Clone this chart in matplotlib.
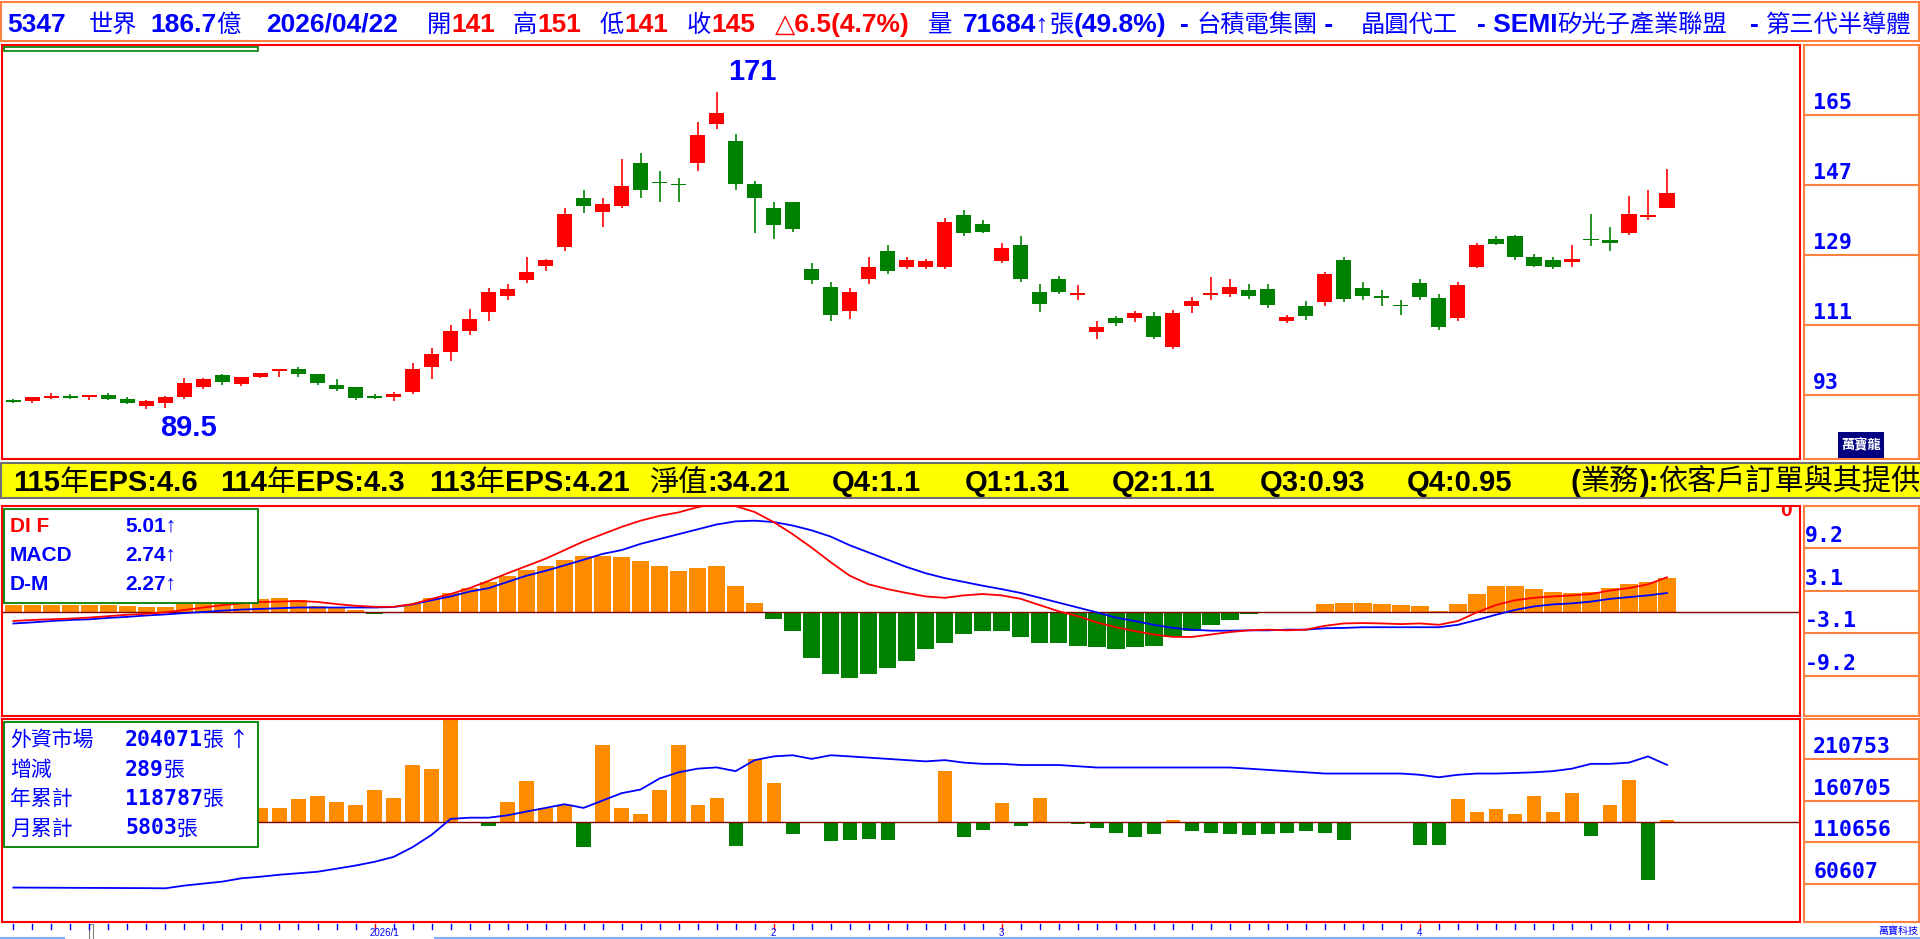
import matplotlib
matplotlib.use('Agg')
import matplotlib.pyplot as plt
import matplotlib.transforms as mtransforms
from matplotlib.patches import Rectangle
from matplotlib.lines import Line2D

# --- 1. DADOS ---
opens = [91.4, 91.5, 92.3, 92.45, 92.6, 93.0, 92.0, 90.25, 91.0, 92.5,
         95.1, 98.2, 95.8, 97.6, 99.3, 99.7, 98.4, 95.6, 95.1, 92.45,
         92.5, 93.8, 100.2, 104.05, 109.5, 114.3, 118.4, 122.5, 126.2, 131.0,
         143.6, 140.1, 141.7, 152.7, 147.8, 147.2, 152.7, 162.8, 158.4, 147.3,
         141.0, 142.6, 125.3, 120.9, 114.5, 122.8, 130.0, 125.9, 125.9, 125.9,
         139.2, 136.9, 127.5, 131.6, 119.6, 122.8, 118.8, 109.3, 112.7, 112.7,
         113.3, 105.4, 115.9, 118.8, 119.0, 119.9, 120.2, 112.1, 115.9, 116.8,
         127.8, 120.6, 118.2, 116.0, 121.8, 118.0, 112.7, 125.9, 133.2, 133.8,
         128.4, 127.8, 127.2, 133.0, 132.9, 134.75, 138.8, 141.0]
highs = [92.1, 92.5, 93.6, 93.25, 92.7, 93.6, 92.6, 91.7, 92.75, 97.5,
         97.3, 98.3, 97.7, 98.7, 99.5, 100.2, 98.4, 97.1, 95.1, 93.3,
         93.8, 101.2, 105.1, 111.0, 115.0, 120.6, 121.5, 128.4, 128.0, 141.0,
         145.8, 143.6, 153.6, 155.2, 150.5, 148.9, 163.1, 171.0, 160.0, 148.0,
         142.6, 142.6, 126.9, 122.1, 120.6, 128.4, 131.6, 128.4, 128.0, 138.5,
         140.7, 137.9, 132.2, 133.8, 121.5, 123.7, 121.2, 112.1, 113.3, 114.6,
         114.3, 114.9, 118.1, 123.4, 122.8, 121.5, 121.5, 113.7, 117.1, 124.7,
         128.4, 122.1, 120.1, 117.4, 122.8, 119.0, 122.1, 132.2, 133.8, 134.1,
         129.3, 128.4, 131.6, 139.5, 136.3, 144.2, 145.8, 151.0]
lows = [90.9, 90.9, 91.9, 91.9, 91.7, 91.6, 90.8, 89.5, 89.7, 92.0,
        94.5, 95.6, 95.4, 97.5, 97.7, 97.7, 95.6, 94.0, 91.7, 92.0,
        91.5, 93.3, 97.1, 101.75, 108.5, 112.1, 117.5, 121.8, 125.0, 130.0,
        139.8, 136.3, 141.0, 143.6, 142.6, 142.6, 150.5, 161.5, 145.8, 134.75,
        133.2, 135.0, 121.5, 112.1, 112.5, 121.5, 124.0, 125.3, 125.3, 125.3,
        133.8, 134.75, 126.9, 122.1, 114.3, 119.0, 117.4, 107.4, 110.8, 111.7,
        107.4, 104.8, 114.0, 117.4, 118.1, 117.7, 115.3, 111.4, 112.4, 115.9,
        116.8, 117.4, 115.9, 113.7, 117.4, 109.6, 112.1, 125.6, 131.6, 127.8,
        126.0, 125.3, 125.9, 131.3, 130.0, 134.1, 138.0, 141.0]
closes = [91.3, 92.5, 92.4, 92.35, 92.7, 92.0, 91.0, 91.45, 92.5, 96.1,
          97.1, 96.35, 97.6, 98.7, 99.45, 98.4, 96.1, 94.5, 92.2, 92.35,
          93.3, 99.7, 103.6, 109.5, 112.5, 119.6, 120.2, 124.7, 127.8, 139.5,
          141.7, 142.0, 146.7, 145.8, 147.4, 146.9, 159.9, 165.6, 147.3, 143.6,
          136.6, 135.7, 122.5, 113.7, 119.5, 125.9, 125.0, 127.8, 127.5, 137.6,
          134.75, 135.0, 130.7, 122.8, 116.5, 119.6, 119.1, 110.5, 111.4, 114.0,
          108.0, 114.0, 117.1, 119.1, 120.9, 118.4, 116.2, 113.0, 113.3, 124.0,
          117.7, 118.4, 118.0, 115.8, 118.3, 110.5, 121.2, 131.6, 131.9, 128.4,
          126.2, 125.9, 128.1, 132.8, 132.0, 139.5, 139.2, 145.0]

dif = [-1.3, -1.15, -1.05, -0.95, -0.8, -0.6, -0.4, -0.25, -0.05, 0.3,
       0.65, 1.0, 1.25, 1.45, 1.5, 1.6, 1.45, 1.15, 0.9, 0.75,
       0.75, 1.15, 1.9, 2.6, 3.45, 4.5, 5.6, 6.65, 7.7, 8.95,
       10.2, 11.25, 12.3, 13.2, 13.9, 14.4, 15.15, 15.7, 15.3, 14.45,
       13.0, 11.25, 9.3, 7.2, 5.25, 4.0, 3.3, 2.75, 2.25, 2.05,
       2.4, 2.6, 2.4, 1.9, 1.0, 0.1, -0.6, -1.5, -2.2, -2.75,
       -3.25, -3.6, -3.6, -3.25, -2.9, -2.65, -2.55, -2.65, -2.55, -2.0,
       -1.65, -1.6, -1.65, -1.75, -1.65, -1.85, -1.3, -0.05, 1.0, 1.7,
       2.05, 2.25, 2.4, 2.6, 3.1, 3.45, 4.0, 5.01]
macd = [-1.66, -1.5, -1.3, -1.15, -1.05, -0.85, -0.7, -0.5, -0.35, -0.15,
        0.0, 0.2, 0.35, 0.45, 0.55, 0.65, 0.65, 0.65, 0.65, 0.65,
        0.72, 1.1, 1.7, 2.25, 2.95, 3.45, 4.35, 5.25, 5.95, 6.75,
        7.55, 8.4, 8.95, 9.85, 10.55, 11.25, 11.95, 12.65, 13.1, 13.2,
        13.0, 12.5, 11.8, 10.9, 9.65, 8.6, 7.55, 6.5, 5.6, 4.9,
        4.35, 3.8, 3.3, 2.75, 2.05, 1.35, 0.65, -0.05, -0.8, -1.3,
        -1.85, -2.3, -2.55, -2.7, -2.7, -2.65, -2.65, -2.55, -2.55, -2.35,
        -2.3, -2.2, -2.2, -2.2, -2.2, -2.2, -1.85, -1.15, -0.4, 0.3,
        0.8, 1.1, 1.25, 1.5, 1.9, 2.15, 2.4, 2.74]
osc = [1.0, 1.0, 1.0, 1.0, 1.0, 0.97, 0.82, 0.77, 0.77, 1.2,
       1.3, 1.5, 1.73, 1.88, 2.0, 1.73, 0.8, 0.6, 0.3, -0.25,
       -0.1, 1.2, 2.05, 2.75, 3.5, 4.35, 5.2, 6.1, 6.65, 7.5,
       8.1, 8.1, 7.9, 7.35, 6.65, 5.95, 6.3, 6.65, 3.8, 1.35,
       -0.95, -2.7, -6.6, -8.9, -9.5, -8.9, -8.05, -7.15, -5.4, -4.5,
       -3.25, -2.7, -2.7, -3.6, -4.5, -4.5, -4.85, -5.0, -5.4, -5.0,
       -4.85, -3.6, -2.7, -1.85, -1.15, -0.25, -0.1, 0.0, 0.05, 1.15,
       1.35, 1.35, 1.15, 1.0, 0.8, 0.1, 1.15, 2.6, 3.8, 3.8,
       3.3, 2.95, 2.75, 2.95, 3.45, 4.0, 4.35, 4.9]

# 外資持股 (張) e 買賣超 (張)
foreign_hold = [55900, 55800, 55700, 55600, 55500, 55400, 55300, 55200, 55000, 58300,
                60700, 63100, 67100, 69000, 71400, 73200, 75000, 78700, 82500, 87000,
                92900, 104700, 119500, 138800, 140300, 140300, 143200, 147700, 152100, 156500,
                152100, 161000, 169900, 174300, 187700, 195100, 199500, 201000, 196500, 209800,
                214300, 215700, 211300, 215700, 214300, 212800, 211300, 209800, 208300, 209800,
                206800, 205300, 205300, 203900, 203900, 203900, 202400, 200900, 200900, 200900,
                200900, 200900, 200900, 200900, 200900, 199500, 198000, 196500, 195100, 193600,
                193600, 193600, 193600, 193600, 192100, 189100, 192100, 193600, 193600, 194300,
                195100, 196500, 199500, 205300, 205300, 206800, 214300, 204071]
foreign_net = [0, 0, 0, 0, 0, 0, 0, 0, 0, 0,
               0, 0, 0, 2100, 2100, 3400, 3900, 3000, 2500, 4800,
               3600, 8500, 8000, 16000, 0, -660, 3000, 6100, 2100, 2600,
               -3800, 11600, 2100, 1200, 4800, 11600, 2500, 3600, -3600, 9400,
               5800, -1800, 0, -2900, -2700, -2500, -2700, 0, 0, 7600,
               -2300, -1200, 2800, -660, 3600, 0, -300, -850, -1600, -2300,
               -1800, 250, -1400, -1600, -1800, -1950, -1800, -1600, -1400, -1600,
               -2700, 0, 0, 0, -3400, -3400, 3400, 1500, 1900, 1200,
               3900, 1500, 4300, -2100, 2500, 6300, -8700, 289]

price_ticks = [165, 147, 129, 111, 93]
macd_ticks = [9.2, 3.1, -3.1, -9.2]
hold_ticks = [210753, 160705, 110656, 60607]
month_pos = [19, 40, 52, 74]
month_labels = ['2026/1', '2', '3', '4']

macd_names = ['DI F', 'MACD', 'D-M']
macd_vals = ['5.01↑', '2.74↑', '2.27↑']
fund_names = ['外資市場', '增減', '年累計', '月累計']
fund_vals = ['204071', '289', '118787', '5803']
fund_tail = ['張 ↑', '張', '張', '張']

eps_items = [('115', '年', 'EPS:4.6'), ('114', '年', 'EPS:4.3'), ('113', '年', 'EPS:4.21')]
band_rest = ['Q4:1.1', 'Q1:1.31', 'Q2:1.11', 'Q3:0.93', 'Q4:0.95']

# --- 2. LAYOUT ---
W, H = 1920, 939
RED, GRN, BLU, ORG, EDGE = '#FF0000', '#008000', '#0000FF', '#FF8C00', '#FF8040'
LAT = ['Liberation Sans', 'DejaVu Sans']
CJK = ['Noto Sans CJK TC', 'DejaVu Sans']
MONO = ['DejaVu Sans Mono']

fig = plt.figure(figsize=(W / 100, H / 100), dpi=100)
fig.patch.set_facecolor('white')
rend = fig.canvas.get_renderer()


def frac(x0, y0, x1, y1):
    return [x0 / W, 1 - y1 / H, (x1 - x0) / W, (y1 - y0) / H]


def panel(x0, y0, x1, y1, edge):
    ax = fig.add_axes(frac(x0, y0, x1, y1))
    ax.set_xticks([])
    ax.set_yticks([])
    for s in ax.spines.values():
        s.set_color(edge)
        s.set_linewidth(1.5)
    return ax


def box(x0, y0, x1, y1, **kw):
    r = Rectangle((x0 / W, 1 - y1 / H), (x1 - x0) / W, (y1 - y0) / H,
                  transform=fig.transFigure, **kw)
    fig.add_artist(r)
    return r


def chain(x, y, pieces, **kw):
    # pieces: (texto, cor, peso, familia, tamanho)
    for s, color, weight, fam, size in pieces:
        t = fig.text(x / W, 1 - y / H, s, color=color, fontweight=weight,
                     family=fam, fontsize=size, ha='left', va='baseline', **kw)
        x = t.get_window_extent(renderer=rend).x1
    return x


n = len(closes)
xs = list(range(n))
XL = (-0.6, 94.0)

# --- 3. CABEÇALHO ---
box(1, 2, 1919, 41, facecolor='white', edgecolor=EDGE, lw=1.5)
HS, CS = 19, 17.5
hb = lambda s, c=BLU: (s, c, 'bold', LAT, HS)
hc = lambda s, c=BLU: (s, c, 'normal', CJK, CS)
header = [
    (7, [hb('5347')]),
    (89, [hc('世界')]),
    (150, [hb('186.7'), hc('億')]),
    (266, [hb('2026/04/22')]),
    (427, [hc('開'), hb('141', RED)]),
    (513, [hc('高'), hb('151', RED)]),
    (600, [hc('低'), hb('141', RED)]),
    (687, [hc('收'), hb('145', RED)]),
    (775, [hb('△6.5(4.7%)', RED)]),
    (928, [hc('量')]),
    (963, [hb('71684↑'), hc('張'), hb('(49.8%)')]),
    (1180, [hb('- '), hc('台積電集團'), hb(' -')]),
    (1361, [hc('晶圓代工')]),
    (1477, [hb('- SEMI'), hc('矽光子產業聯盟')]),
    (1750, [hb('- '), hc('第三代半導體')]),
]
for x0, pcs in header:
    chain(x0, 32, pcs)

# --- 4. PREÇO ---
ax_p = panel(2, 45, 1800, 459, RED)
ax_p.set_xlim(*XL)
ax_p.set_ylim(76.55, 183.0)
cols = [RED if c >= o else GRN for o, c in zip(opens, closes)]
ax_p.vlines(xs, lows, highs, colors=cols, lw=1.2)
ax_p.bar(xs, [max(abs(c - o), 0.35) for o, c in zip(opens, closes)],
         bottom=[min(o, c) for o, c in zip(opens, closes)],
         width=0.8, color=cols, linewidth=0)
hi_i = max(xs, key=lambda i: highs[i])
lo_i = min(xs, key=lambda i: lows[i])
ax_p.text(hi_i + 1.9, highs[hi_i] + 5, f'{highs[hi_i]:g}', color=BLU, family=LAT,
          fontweight='bold', fontsize=21, ha='center', va='center')
ax_p.text(lo_i + 2.2, lows[lo_i] - 5, f'{lows[lo_i]:g}', color=BLU, family=LAT,
          fontweight='bold', fontsize=21, ha='center', va='center')
box(4, 47, 258, 51, facecolor='none', edgecolor=GRN, lw=1.2)


def right_axis(y0, y1, ylim, ticks, xpos):
    ax = panel(1804, y0, 1919, y1, EDGE)
    ax.set_xlim(0, 1)
    ax.set_ylim(*ylim)
    off = mtransforms.offset_copy(ax.transData, fig=fig, y=6, units='dots')
    for v in ticks:
        ax.axhline(v, color=EDGE, lw=1.5)
        ax.text(xpos, v, f'{v:g}', transform=off, color=BLU, family=MONO,
                fontweight='bold', fontsize=15.5, ha='left', va='baseline')
    return ax


right_axis(45, 459, (76.55, 183.0), price_ticks, 0.08)
lg = fig.add_axes(frac(1838, 432, 1884, 458))
lg.set_facecolor('#000080')
lg.set_xticks([]); lg.set_yticks([])
for s in lg.spines.values():
    s.set_visible(False)
lg.text(0.5, 0.5, '萬寶龍', color='white', family=CJK, fontweight='bold',
        fontsize=9.5, ha='center', va='center', transform=lg.transAxes)

# --- 5. FAIXA AMARELA ---
box(1, 463, 1921, 498, facecolor='#FFFF00', edgecolor='#707070', lw=1.5, zorder=6)
BS, BC = 21, 21
bb = lambda s: (s, 'black', 'bold', LAT, BS)
bc = lambda s: (s, 'black', 'normal', CJK, BC)
band_x = [13, 220, 429, 649, 832, 965, 1112, 1260, 1407, 1571]
for x0, (yr, ch, rest) in zip(band_x, eps_items):
    chain(x0, 491, [bb(yr), bc(ch), bb(rest)], zorder=7)
chain(band_x[3], 491, [bc('淨值'), bb(':34.21')], zorder=7)
for x0, s in zip(band_x[4:9], band_rest):
    chain(x0, 491, [bb(s)], zorder=7)
chain(band_x[9], 491, [bb('('), bc('業務'), bb('):'), bc('依客戶訂單與其提供')], zorder=7)

# --- 6. MACD ---
ax_m = panel(2, 506, 1800, 716, RED)
ax_m.set_xlim(*XL)
ax_m.set_ylim(-15.03, 15.32)
ax_m.bar(xs, osc, width=0.92, color=[ORG if v >= 0 else GRN for v in osc], linewidth=0)
ax_m.axhline(0, color='#800000', lw=1.0)
ax_m.plot(xs, macd, color=BLU, lw=1.3)
ax_m.plot(xs, dif, color=RED, lw=1.3)
ax_m.text(1786 / W, 1 - 511 / H, '0', transform=fig.transFigure, color=RED, family=LAT,
          fontweight='bold', fontsize=15, ha='center', va='center', clip_on=True)
right_axis(506, 716, (-15.03, 15.32), macd_ticks, 0.01)
box(4, 509, 258, 603, facecolor='white', edgecolor=GRN, lw=1.3, zorder=4)
for k, (nm, val) in enumerate(zip(macd_names, macd_vals)):
    y = 532 + 29 * k
    fig.text(10 / W, 1 - y / H, nm, color=RED if k == 0 else BLU, family=LAT,
             fontweight='bold', fontsize=15, va='baseline', zorder=5)
    fig.text(125 / W, 1 - y / H, val, color=BLU, family=LAT,
             fontweight='bold', fontsize=15, va='baseline', zorder=5)

# --- 7. FUNDOS EXTERNOS ---
ax_b = panel(2, 719, 1800, 922, RED)
ax_b.set_xlim(*XL)
ax_b.set_ylim(-15000, 15450)
ax_b.bar(xs, foreign_net, width=0.75,
         color=[ORG if v >= 0 else GRN for v in foreign_net], linewidth=0)
ax_b.axhline(0, color='#800000', lw=1.0)
ax_l = fig.add_axes(frac(2, 719, 1800, 922))
ax_l.set_facecolor('none')
ax_l.axis('off')
ax_l.set_xlim(*XL)
ax_l.set_ylim(14306, 259472)
ax_l.plot(xs, foreign_hold, color=BLU, lw=1.3)
right_axis(719, 922, (14306, 259472), hold_ticks, 0.08)
box(4, 722, 258, 847, facecolor='white', edgecolor=GRN, lw=1.3, zorder=4)
for k, (nm, val, tail) in enumerate(zip(fund_names, fund_vals, fund_tail)):
    y = 746 + 29.5 * k
    chain(10, y, [(nm, BLU, 'normal', CJK, 15)], zorder=5)
    chain(125, y, [(val, BLU, 'bold', MONO, 15.5), (tail, BLU, 'normal', CJK, 15)], zorder=5)

# --- 8. EIXO DE DATAS ---
tr = mtransforms.blended_transform_factory(ax_b.transData, fig.transFigure)
for i in xs:
    c = RED if i in month_pos else BLU
    fig.add_artist(Line2D([i, i], [1 - 924 / H, 1 - 929 / H], color=c, lw=1, transform=tr))
for p, lab in zip(month_pos, month_labels):
    fig.text(p + (0.5 if lab == '2026/1' else 0), 1 - 933 / H, lab, transform=tr,
             color=BLU, family=LAT, fontsize=7, ha='center', va='center')
box(89, 924, 93, 939, facecolor='white', edgecolor='#808080', lw=0.8)
fig.add_artist(Line2D([0, 64 / W], [1 - 938 / H] * 2, color='#80B0FF', lw=1.5,
                      transform=fig.transFigure))
fig.add_artist(Line2D([435 / W, 1], [1 - 938 / H] * 2, color='#80B0FF', lw=1.5,
                      transform=fig.transFigure))
fig.text(1918 / W, 1 - 931 / H, '萬寶科技', color=BLU, family=CJK, fontsize=7.2,
         ha='right', va='center')

fig.savefig('out.png', dpi=100, facecolor='white')
